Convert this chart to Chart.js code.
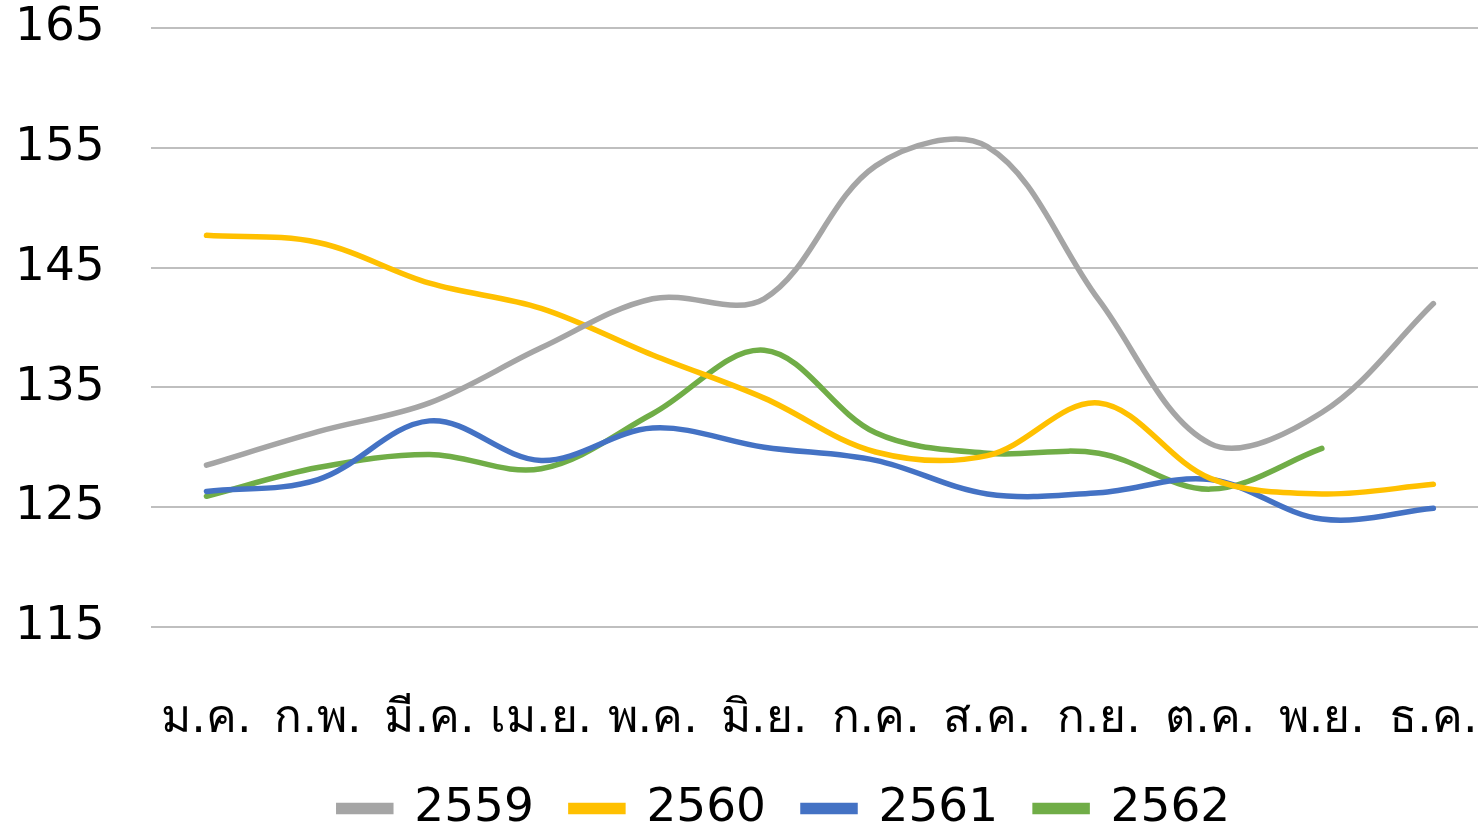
<!DOCTYPE html>
<html>
<head>
<meta charset="utf-8">
<script src="https://cdn.jsdelivr.net/npm/chart.js@4"></script>
<style>
  html, body { margin: 0; padding: 0; background: #fff; }
  #wrap { width: 1478px; height: 826px; }
</style>
</head>
<body>
<div id="wrap"><canvas id="chart" width="1478" height="826"></canvas></div>
<script>
const months = ["ม.ค.", "ก.พ.", "มี.ค.", "เม.ย.", "พ.ค.", "มิ.ย.", "ก.ค.", "ส.ค.", "ก.ย.", "ต.ค.", "พ.ย.", "ธ.ค."];

const y2559 = [128.5, 131.3, 133.7, 138.3, 142.4, 142.4, 153.5, 155.1, 142.3, 130.3, 132.9, 142.0];
const y2560 = [147.7, 147.1, 143.7, 141.6, 137.7, 134.1, 129.6, 129.3, 133.7, 127.4, 126.1, 126.9];
const y2561 = [126.3, 127.3, 132.2, 128.9, 131.6, 130.0, 128.9, 126.1, 126.2, 127.3, 124.0, 124.9];
const y2562 = [125.9, 128.3, 129.4, 128.2, 132.8, 138.1, 131.2, 129.5, 129.5, 126.5, 129.9, null];

const seriesNames = ["2559", "2560", "2561", "2562"];
const seriesColours = ["#a5a5a5", "#ffc000", "#4472c4", "#70ad47"];
const seriesValues = [y2559, y2560, y2561, y2562];

const FONT = "'DejaVu Sans', 'Noto Sans', sans-serif";

// month index on a linear x axis, so the plot can run a bit past the right edge like the original
const dataSets = seriesNames.map((name, i) => ({
  label: name,
  data: months.map((m, j) => ({ x: j, y: seriesValues[i][j] })),
  borderColor: seriesColours[i],
  backgroundColor: seriesColours[i],
  borderWidth: 5.5,
  borderCapStyle: "round",
  pointRadius: 0,
  tension: 0.35,
  fill: false,
}));

// nudge the legend a little to the right, like the original
const legendShift = {
  id: "legendShift",
  afterLayout(chart) {
    chart.legend.left += 38;
    chart.legend.right += 38;
  },
};

new Chart(document.getElementById("chart").getContext("2d"), {
  type: "line",
  data: { datasets: dataSets },
  plugins: [legendShift],
  options: {
    responsive: false,
    animation: false,
    layout: { padding: { left: 15, right: 0, top: 1, bottom: -16 } },
    scales: {
      x: {
        type: "linear",
        min: -0.5,
        max: 11.4,
        // invisible tick marks only used to push the labels down
        grid: {
          display: true,
          drawOnChartArea: false,
          drawTicks: true,
          tickLength: 66,
          color: "transparent",
          tickColor: "transparent",
        },
        border: { display: false },
        ticks: {
          stepSize: 1,
          includeBounds: false,
          callback: (v) => (Number.isInteger(v) ? months[v] : ""),
          color: "#000",
          font: { family: FONT, size: 46 },
          padding: 0,
          maxRotation: 0,
          autoSkip: false,
        },
      },
      y: {
        min: 115,
        max: 165,
        grid: {
          color: "#bfbfbf",
          lineWidth: 2,
          drawTicks: true,
          tickLength: 46,
          tickColor: "transparent",
        },
        border: { display: false },
        ticks: {
          stepSize: 10,
          color: "#000",
          font: { family: FONT, size: 47 },
          padding: 0,
        },
      },
    },
    plugins: {
      tooltip: { enabled: false },
      legend: {
        position: "bottom",
        labels: {
          color: "#000",
          font: { family: FONT, size: 47 },
          boxWidth: 52,
          boxHeight: 6,
          padding: 37,
        },
      },
    },
  },
});
</script>
</body>
</html>
